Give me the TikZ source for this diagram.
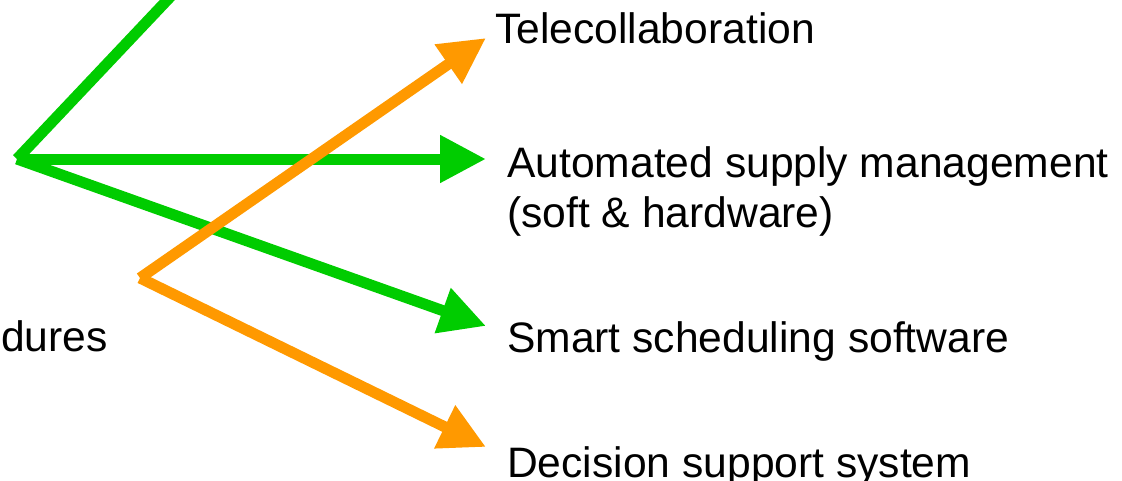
\documentclass[tikz,border=0pt]{standalone}
\usepackage{fontspec}
\setmainfont{Liberation Sans}
\usetikzlibrary{arrows.meta}
\definecolor{lgreen}{RGB}{0,204,0}
\definecolor{lorange}{RGB}{255,153,0}
\tikzset{
  conn/.style={line width=11pt, line cap=butt, line join=miter},
  garrow/.style={conn, draw=lgreen, -{Triangle[length=46pt,width=45pt]}},
  oarrow/.style={conn, draw=lorange, -{Triangle[length=46pt,width=45pt]}},
  label/.style={anchor=base west, inner sep=0pt, font=\fontsize{42.6pt}{51pt}\selectfont, text=black}
}
\begin{document}
\begin{tikzpicture}[x=1pt,y=-1pt]
\useasboundingbox (0,0) rectangle (1122,480);
\clip (0,0) rectangle (1122,480);
% text nodes
\node[label] (tele) at (495,43) {Telecollaboration};
\node[label] (auto) at (507,177) {Automated supply management};
\node[label] (autosub) at (507,227) {(soft \& hardware)};
\node[label] (smart) at (507,352) {Smart scheduling software};
\node[label] (deci) at (507,477) {Decision support system};
\node[label] (dures) at (1,351) {dures};
% junctions and free ends
\coordinate (g) at (17,159);
\coordinate (gtop) at (190,-24);
\coordinate (o) at (140,278);
\coordinate (tauto) at (486,159);
\coordinate (tsmart) at (486,326);
\coordinate (ttele) at (486,38);
\coordinate (tdeci) at (486,447);
% green connectors
\draw[conn, draw=lgreen] (gtop) -- (g);
\draw[garrow] (g) -- (tauto);
\draw[garrow] (g) -- (tsmart);
% orange connectors
\draw[oarrow] (o) -- (ttele);
\draw[oarrow] (o) -- (tdeci);
\end{tikzpicture}
\end{document}
